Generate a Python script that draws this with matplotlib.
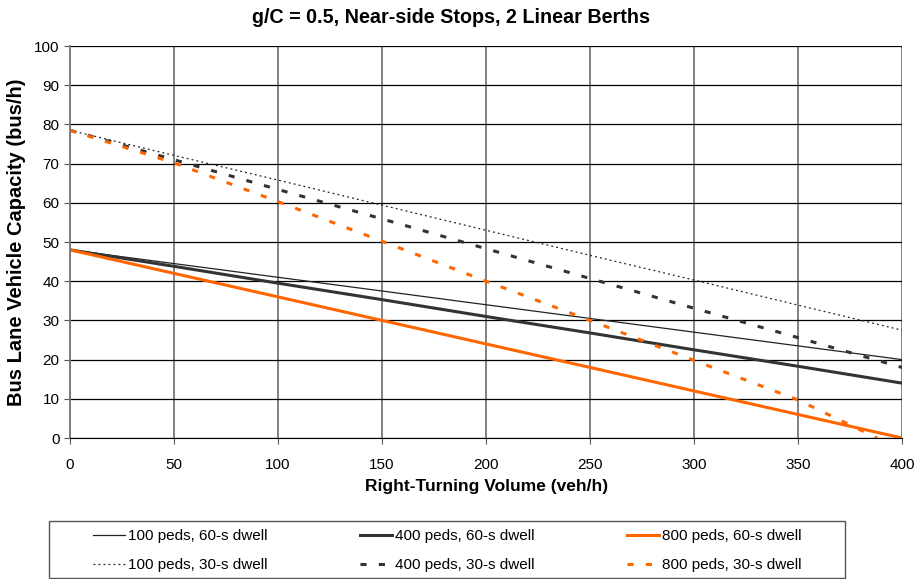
import matplotlib
matplotlib.use("Agg")
import matplotlib.pyplot as plt
from matplotlib.patches import Rectangle

plt.rcParams['font.family'] = ['Liberation Sans', 'DejaVu Sans']

# right-turning volume (veh/h)
vol = [0, 50, 100, 150, 200, 250, 300, 350, 400]

# bus lane vehicle capacity (bus/h)
cap_100_60 = [48, 44.5, 41, 37.5, 34, 30.5, 27, 23.5, 20]
cap_400_60 = [48, 43.8, 39.5, 35.3, 31, 26.8, 22.5, 18.3, 14]
cap_800_60 = [48, 42, 36, 30, 24, 18, 12, 6, 0]
cap_100_30 = [78.5, 72.1, 65.8, 59.4, 53, 46.6, 40.3, 33.9, 27.5]
cap_400_30 = [78.5, 71, 63.4, 55.9, 48.3, 40.7, 33.1, 25.6, 18]
vol_800_30 = [0, 50, 100, 150, 200, 250, 300, 350, 388]
cap_800_30 = [78.5, 70.2, 60.3, 50.2, 40, 30, 19.8, 9.7, 0]

orange = '#ff6600'

fig = plt.figure(figsize=(9.14, 5.79), dpi=100)
ax = fig.add_axes([0.0766, 0.2435, 0.9104, 0.677])

ax.plot(vol, cap_100_60, color='#222222', lw=0.9, label='100 peds, 60-s dwell')
ax.plot(vol, cap_100_30, color='#222222', lw=0.9, ls=(0, (1.5, 2.5)), label='100 peds, 30-s dwell')
ax.plot(vol, cap_400_60, color='#333333', lw=2.2, label='400 peds, 60-s dwell')
ax.plot(vol, cap_400_30, color='#333333', lw=2.2, ls=(0, (2, 4)), label='400 peds, 30-s dwell')
ax.plot(vol, cap_800_60, color=orange, lw=2.2, label='800 peds, 60-s dwell')
ax.plot(vol_800_30, cap_800_30, color=orange, lw=2.2, ls=(0, (2, 4)), label='800 peds, 30-s dwell')

ax.set_xlim(0, 400)
ax.set_ylim(0, 100)
ax.set_xticks(range(0, 401, 50))
ax.set_yticks(range(0, 101, 10))
ax.yaxis.grid(True, color='black', lw=0.9)
ax.xaxis.grid(True, color='#777777', lw=1.3)
ax.set_axisbelow(True)
for s in ['top', 'right']:
    ax.spines[s].set_visible(False)
ax.spines['left'].set_color('#777777')
ax.spines['left'].set_linewidth(1.3)
ax.spines['bottom'].set_color('black')
ax.tick_params(axis='both', labelsize=11, length=4.5, color='#555555')
ax.tick_params(axis='x', pad=10)
ax.tick_params(axis='y', pad=3)

fig.suptitle('g/C = 0.5, Near-side Stops, 2 Linear Berths', x=451 / 914, y=1 - 8 / 579,
             va='top', fontsize=14.2, fontweight='bold')
ax.set_xlabel('Right-Turning Volume (veh/h)', fontsize=12.5, fontweight='bold', labelpad=5)
ax.set_ylabel('Bus Lane Vehicle Capacity (bus/h)', fontsize=14.5, fontweight='bold', labelpad=6)

# legend box drawn by hand, entries spread inside it
fig.patches.append(Rectangle((49 / 914, 1 - 578 / 579), (845 - 49) / 914, (578 - 521) / 579,
                             transform=fig.transFigure, fill=False, edgecolor='#555555', lw=1.0))
fig.legend(loc='center', bbox_to_anchor=(93 / 914, 0.0292, (802 - 93) / 914, 0.04), mode='expand',
           ncol=3, fontsize=11, frameon=False, handlelength=2.1, handletextpad=0.2,
           labelspacing=1.0, borderpad=0, borderaxespad=0)

fig.savefig('out.png', dpi=100)
